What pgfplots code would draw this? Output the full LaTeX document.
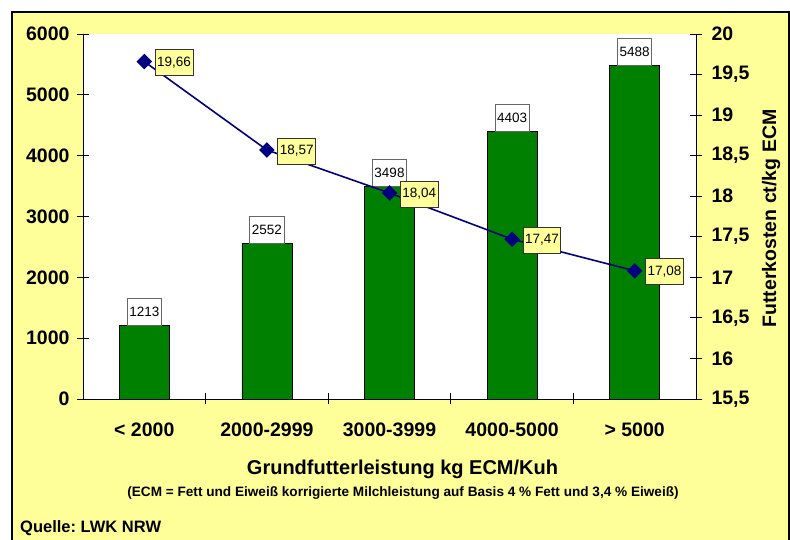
\documentclass[border=0pt]{standalone}
\usepackage{pgfplots}
\pgfplotsset{compat=1.18}
\usepackage{fontspec}
\setmainfont{Liberation Sans}
\frenchspacing
\definecolor{bgyellow}{HTML}{FFFF99}
\definecolor{bargreen}{HTML}{008000}
\definecolor{navyblue}{HTML}{000080}
\pgfplotstableread{
x v
0 1213
1 2552
2 3498
3 4403
4 5488
}\bars
\pgfplotstableread{
x c
0 19.66
1 18.57
2 18.04
3 17.47
4 17.08
}\kosten
\begin{document}
\begin{tikzpicture}[x=1pt,y=1pt]
\useasboundingbox (0,0) rectangle (790,540);
\fill[white] (0,0) rectangle (790,540);
\fill[bgyellow] (12,-5) rectangle (789,528);
\draw[black, line width=1.2pt] (12,-5) rectangle (789,528);
\begin{axis}[
  at={(83pt,141pt)}, anchor=south west,
  scale only axis, width=613pt, height=365pt,
  xmin=-0.5, xmax=4.5, ymin=0, ymax=6000,
  axis background/.style={fill=white},
  axis x line*=bottom, axis y line*=left,
  axis line style={black, line width=0.8pt},
  xtick={0,...,4},
  xticklabels={{< 2000},{2000-2999},{3000-3999},{4000-5000},{> 5000}},
  minor xtick={0.5,1.5,2.5,3.5},
  major x tick style={draw=none},
  minor x tick style={black, line width=0.8pt},
  minor tick length=11pt,
  ytick={0,1000,...,6000},
  major tick length=12pt,
  tick align=center,
  y tick style={black, line width=0.8pt},
  /pgf/number format/assume math mode=true,
  /pgf/number format/1000 sep={},
  ticklabel style={font=\bfseries\fontsize{19.5}{19.5}\selectfont},
  every x tick label/.append style={yshift=-14pt},
  every y tick label/.append style={xshift=-4pt},
  clip=false,
  xlabel={Grundfutterleistung kg ECM/Kuh},
  every axis x label/.style={at={(axis description cs:0.5,0)}, anchor=center, yshift=-70pt, xshift=13pt, font=\bfseries\fontsize{20}{20}\selectfont},
]
\addplot[ybar, bar width=50pt, bar shift=0pt, fill=bargreen, draw=black, line width=0.8pt,
  nodes near coords,
  every node near coord/.append style={fill=white, draw=black!60, line width=0.8pt, inner sep=2pt,
    minimum height=27pt, minimum width=34pt, font=\fontsize{13.5}{13.5}\selectfont, anchor=south, yshift=-0.5pt}]
  table[x=x, y=v] {\bars};
\end{axis}
\begin{axis}[
  at={(83pt,141pt)}, anchor=south west,
  scale only axis, width=613pt, height=365pt,
  xmin=-0.5, xmax=4.5, ymin=15.5, ymax=20,
  axis x line=none, axis y line*=right,
  axis line style={black, line width=0.8pt},
  ytick={15.5,16,...,20},
  major tick length=12pt,
  tick align=center,
  y tick style={black, line width=0.8pt},
  /pgf/number format/assume math mode=true,
  /pgf/number format/use comma,
  ticklabel style={font=\bfseries\fontsize{19.5}{19.5}\selectfont},
  every y tick label/.append style={xshift=6pt},
  clip=false,
  ylabel={Futterkosten ct/kg ECM},
  every axis y label/.style={at={(axis description cs:1,0.5)}, anchor=center, rotate=90, yshift=-75pt, xshift=-2pt, font=\bfseries\fontsize{19.5}{19.5}\selectfont},
]
\addplot[navyblue, line width=1.6pt, mark=square*, mark size=4.7pt,
  mark options={rotate=45, fill=navyblue, draw=navyblue},
  nodes near coords={\pgfmathprintnumber[fixed,fixed zerofill,precision=2,use comma]{\pgfplotspointmeta}},
  every node near coord/.append style={fill=bgyellow, draw=black!80, line width=0.8pt, inner sep=2pt,
    minimum height=26pt, minimum width=37pt, font=\fontsize{13.5}{13.5}\selectfont, text=black, anchor=west, xshift=10.5pt, yshift=-1pt}]
  table[x=x, y=c] {\kosten};
\end{axis}
\node[anchor=center, font=\bfseries\fontsize{13.6}{13.6}\selectfont] at (403,47) {(ECM = Fett und Eiweiß korrigierte Milchleistung auf Basis 4 \% Fett und 3,4 \% Eiweiß)};
\node[anchor=west, inner sep=0pt, font=\bfseries\fontsize{16.5}{16.5}\selectfont] at (20,12) {Quelle: LWK NRW};
\end{tikzpicture}
\end{document}
